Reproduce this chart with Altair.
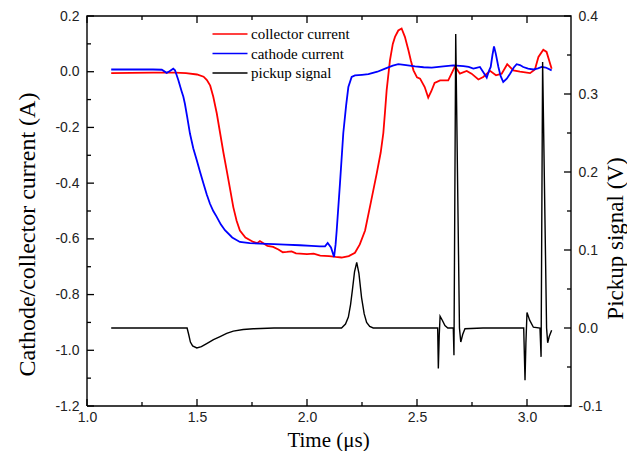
import altair as alt
import pandas as pd

# ---------------- data ----------------
t_collector = [1.11, 1.20, 1.30, 1.40, 1.45, 1.50, 1.53, 1.545, 1.56, 1.574, 1.59, 1.605, 1.62, 1.635,
               1.65, 1.665, 1.68, 1.695, 1.72, 1.756, 1.775, 1.786, 1.80, 1.82, 1.846, 1.87, 1.89, 1.908,
               1.93, 1.95, 1.968, 2.00, 2.03, 2.06, 2.10, 2.13, 2.157, 2.19, 2.218, 2.24, 2.264, 2.29,
               2.317, 2.335, 2.347, 2.355, 2.362, 2.377, 2.39, 2.40, 2.415, 2.43, 2.445, 2.461, 2.472,
               2.484, 2.50, 2.514, 2.535, 2.551, 2.565, 2.58, 2.605, 2.642, 2.673, 2.695, 2.726, 2.748,
               2.779, 2.801, 2.832, 2.859, 2.885, 2.91, 2.938, 2.968, 3.014, 3.036, 3.052, 3.074, 3.089,
               3.112]
v_collector = [-0.005, -0.004, -0.003, -0.003, -0.005, -0.010, -0.018, -0.03, -0.05, -0.09, -0.15, -0.22,
               -0.29, -0.354, -0.42, -0.486, -0.535, -0.57, -0.595, -0.611, -0.615, -0.608, -0.615, -0.625,
               -0.629, -0.638, -0.648, -0.647, -0.645, -0.652, -0.653, -0.655, -0.653, -0.66, -0.662, -0.665,
               -0.667, -0.662, -0.65, -0.62, -0.57, -0.47, -0.365, -0.29, -0.22, -0.14, -0.067, 0.041, 0.10,
               0.125, 0.148, 0.155, 0.125, 0.077, 0.04, 0.005, -0.02, -0.025, -0.055, -0.093, -0.07, -0.04,
               -0.031, -0.031, 0.019, -0.007, 0.003, -0.007, -0.028, -0.019, 0.003, -0.013, -0.007, 0.027,
               0.005, 0.0, -0.005, 0.008, 0.053, 0.079, 0.071, 0.011]

t_cathode = [1.11, 1.20, 1.30, 1.34, 1.362, 1.375, 1.392, 1.40, 1.415, 1.43, 1.438, 1.445, 1.455, 1.468,
             1.483, 1.499, 1.514, 1.529, 1.544, 1.559, 1.574, 1.589, 1.608, 1.627, 1.66, 1.695, 1.74, 1.786,
             1.85, 1.90, 1.968, 2.02, 2.059, 2.082, 2.094, 2.109, 2.123, 2.13, 2.135, 2.15, 2.165, 2.178,
             2.188, 2.203, 2.218, 2.25, 2.279, 2.32, 2.355, 2.39, 2.415, 2.45, 2.491, 2.53, 2.567, 2.62,
             2.665, 2.711, 2.735, 2.756, 2.77, 2.786, 2.80, 2.817, 2.828, 2.835, 2.843, 2.85, 2.858, 2.87,
             2.88, 2.892, 2.908, 2.923, 2.94, 2.953, 2.968, 2.983, 3.005, 3.029, 3.05, 3.067, 3.085, 3.112]
v_cathode = [0.008, 0.008, 0.008, 0.007, -0.004, 0.002, 0.011, 0.005, -0.03, -0.07, -0.09, -0.115, -0.16,
             -0.222, -0.275, -0.318, -0.36, -0.40, -0.44, -0.474, -0.50, -0.52, -0.548, -0.569, -0.595,
             -0.611, -0.615, -0.617, -0.619, -0.621, -0.623, -0.625, -0.627, -0.627, -0.615, -0.631, -0.665,
             -0.62, -0.57, -0.40, -0.22, -0.12, -0.055, -0.019, -0.013, -0.011, -0.009, 0.0, 0.011, 0.022,
             0.027, 0.024, 0.019, 0.016, 0.015, 0.019, 0.023, 0.02, 0.017, 0.011, 0.014, 0.017, 0.0, -0.021,
             0.005, 0.017, 0.06, 0.091, 0.065, 0.017, -0.015, -0.037, -0.025, -0.007, 0.015, 0.027, 0.024,
             0.017, 0.011, 0.008, 0.012, 0.017, 0.015, 0.005]

t_pickup = [1.11, 1.30, 1.455, 1.462, 1.47, 1.48, 1.499, 1.52, 1.544, 1.575, 1.605, 1.635, 1.665, 1.71,
            1.756, 1.85, 2.10, 2.157, 2.175, 2.188, 2.198, 2.206, 2.216, 2.226, 2.236, 2.248, 2.26, 2.271,
            2.285, 2.301, 2.594, 2.597, 2.601, 2.605, 2.615, 2.627, 2.64, 2.665, 2.668, 2.676, 2.693,
            2.699, 2.708, 2.718, 2.80, 2.985, 2.991, 2.995, 3.0, 3.012, 3.029, 3.059, 3.064, 3.071, 3.089,
            3.094, 3.101, 3.112]
v_pickup = [0.0, 0.0, 0.0, -0.008, -0.018, -0.023, -0.0255, -0.024, -0.020, -0.015, -0.011, -0.007,
            -0.004, -0.002, -0.001, 0.0, 0.0, 0.0, 0.005, 0.014, 0.03, 0.048, 0.072, 0.084, 0.07, 0.039,
            0.018, 0.007, 0.002, 0.0, 0.0, -0.052, -0.01, 0.015, 0.01, 0.003, 0.0, 0.0, -0.035, 0.377,
            0.0, -0.018, -0.008, -0.001, 0.0, 0.0, -0.067, -0.02, 0.020, 0.01, 0.001, 0.0, -0.037, 0.341,
            0.0, -0.019, -0.011, -0.003]

series_names = ["collector current", "cathode current", "pickup signal"]
series_colors = ["#ff0000", "#0000ff", "#000000"]

x_major = [1.0, 1.5, 2.0, 2.5, 3.0]
x_minor = [1.25, 1.75, 2.25, 2.75]
yl_major = [-1.2, -1.0, -0.8, -0.6, -0.4, -0.2, 0.0, 0.2]
yl_minor = [-1.1, -0.9, -0.7, -0.5, -0.3, -0.1, 0.1]
yr_major = [-0.1, 0.0, 0.1, 0.2, 0.3, 0.4]
yr_minor = [-0.05, 0.05, 0.15, 0.25, 0.35]

x_domain = [1.0, 3.2]
yl_domain = [-1.2, 0.2]
yr_domain = [-0.1, 0.4]

# ---------------- layout constants ----------------
W, H = 484, 390
MAJOR, MINOR = 7, 4          # inward tick lengths in pixels
LAB = "Liberation Sans"
SER = "Liberation Serif"
TC = "#222222"
FRAME = series_names[2]      # frame and ticks use the black entry of the colour scale
fix_minus = "replace(datum.label, '\u2212', '-')"

ux = (x_domain[1] - x_domain[0]) / W
uyl = (yl_domain[1] - yl_domain[0]) / H

# ---------------- tables ----------------
rows = []
for name, ts, vs in ((series_names[0], t_collector, v_collector),
                     (series_names[1], t_cathode, v_cathode)):
    for i, (tx, vy) in enumerate(zip(ts, vs)):
        rows.append({"seg": name, "o": i, "t": tx, "v": vy, "series": name, "w": 1.8})

x0, x1 = x_domain
y0, y1 = yl_domain
for i, (tx, vy) in enumerate([(x0, y0), (x1, y0), (x1, y1), (x0, y1), (x0, y0)]):
    rows.append({"seg": "frame", "o": i, "t": tx, "v": vy, "series": FRAME, "w": 1.4})
k = 0
for vals, ln in ((x_major, MAJOR), (x_minor, MINOR)):
    for tx in vals:
        for base, sgn in ((y0, 1), (y1, -1)):
            rows.append({"seg": f"k{k}", "o": 0, "t": tx, "v": base, "series": FRAME, "w": 1.3})
            rows.append({"seg": f"k{k}", "o": 1, "t": tx, "v": base + sgn * ln * uyl,
                         "series": FRAME, "w": 1.3})
            k += 1
for vals, ln in ((yl_major, MAJOR), (yl_minor, MINOR)):
    for vy in vals:
        rows.append({"seg": f"k{k}", "o": 0, "t": x0, "v": vy, "series": FRAME, "w": 1.3})
        rows.append({"seg": f"k{k}", "o": 1, "t": x0 + ln * ux, "v": vy, "series": FRAME, "w": 1.3})
        k += 1
left_table = pd.DataFrame(rows)

rows = []
for i, (tx, vy) in enumerate(zip(t_pickup, v_pickup)):
    rows.append({"seg": "pickup", "o": i, "t": tx, "v": vy, "series": series_names[2], "w": 1.4})
for vals, ln in ((yr_major, MAJOR), (yr_minor, MINOR)):
    for vy in vals:
        rows.append({"seg": f"k{k}", "o": 0, "t": x1, "v": vy, "series": FRAME, "w": 1.3})
        rows.append({"seg": f"k{k}", "o": 1, "t": x1 - ln * ux, "v": vy, "series": FRAME, "w": 1.3})
        k += 1
right_table = pd.DataFrame(rows)


def xs():
    return alt.Scale(domain=x_domain, nice=False, zero=False)

def yls():
    return alt.Scale(domain=yl_domain, nice=False, zero=False)

def yrs():
    return alt.Scale(domain=yr_domain, nice=False, zero=False)

color = alt.Color(
    "series:N",
    scale=alt.Scale(domain=series_names, range=series_colors),
    legend=alt.Legend(
        title=None, orient="none", legendX=135, legendY=10,
        symbolType="M-2.5,0H2.5", symbolSize=196, symbolStrokeWidth=1.5,
        labelFont=SER, labelFontSize=15, labelColor="black", labelOffset=13,
        rowPadding=3.5, padding=0,
    ),
)

layer_left = alt.Chart(left_table).mark_line().encode(
    x=alt.X("t:Q", scale=xs(), axis=alt.Axis(
        orient="bottom", values=x_major, format=".1f", ticks=False, domain=False,
        labelFlush=False,
        labelPadding=4, labelFont=LAB, labelFontSize=14, labelColor=TC,
        title="Time (\u03bcs)", titleFont=SER, titleFontSize=21, titleFontWeight="normal",
        titleColor="black", titleX=241, titleY=40, titleBaseline="alphabetic")),
    y=alt.Y("v:Q", scale=yls(), axis=alt.Axis(
        orient="left", values=yl_major, format=".1f", labelExpr=fix_minus, ticks=False,
        domain=False, labelFlush=False,
        labelPadding=8, labelFont=LAB, labelFontSize=14, labelColor=TC,
        title="Cathode/collector current (A)", titleFont=SER, titleFontSize=24,
        titleFontWeight="normal", titleColor="black", titleAngle=270, titleX=-53, titleY=218,
        titleBaseline="alphabetic", titleAlign="center")),
    color=color,
    detail="seg:N",
    order="o:Q",
    strokeWidth=alt.StrokeWidth("w:Q", scale=None),
)

layer_right = alt.Chart(right_table).mark_line().encode(
    x=alt.X("t:Q", scale=xs(), axis=None),
    y=alt.Y("v:Q", scale=yrs(), axis=alt.Axis(
        orient="right", values=yr_major, format=".1f", labelExpr=fix_minus, ticks=False,
        domain=False, labelFlush=False,
        labelPadding=7, labelFont=LAB, labelFontSize=14, labelColor=TC,
        title="Pickup signal (V)", titleFont=SER, titleFontSize=23, titleFontWeight="normal",
        titleColor="black", titleAngle=270, titleX=51, titleY=222,
        titleBaseline="alphabetic", titleAlign="center")),
    color=color,
    detail="seg:N",
    order="o:Q",
    strokeWidth=alt.StrokeWidth("w:Q", scale=None),
)

chart = alt.layer(layer_left, layer_right).resolve_scale(
    x="independent", y="independent", color="shared"
).resolve_axis(
    x="independent", y="independent"
).properties(
    width=W, height=H,
    autosize=alt.AutoSizeParams(type="none"),
    padding={"left": 79, "top": 8, "right": 56, "bottom": 45},
    background="white",
).configure_axis(grid=False).configure_view(stroke="transparent")

chart.save("out.html", embed_options={"renderer": "svg", "actions": False})
